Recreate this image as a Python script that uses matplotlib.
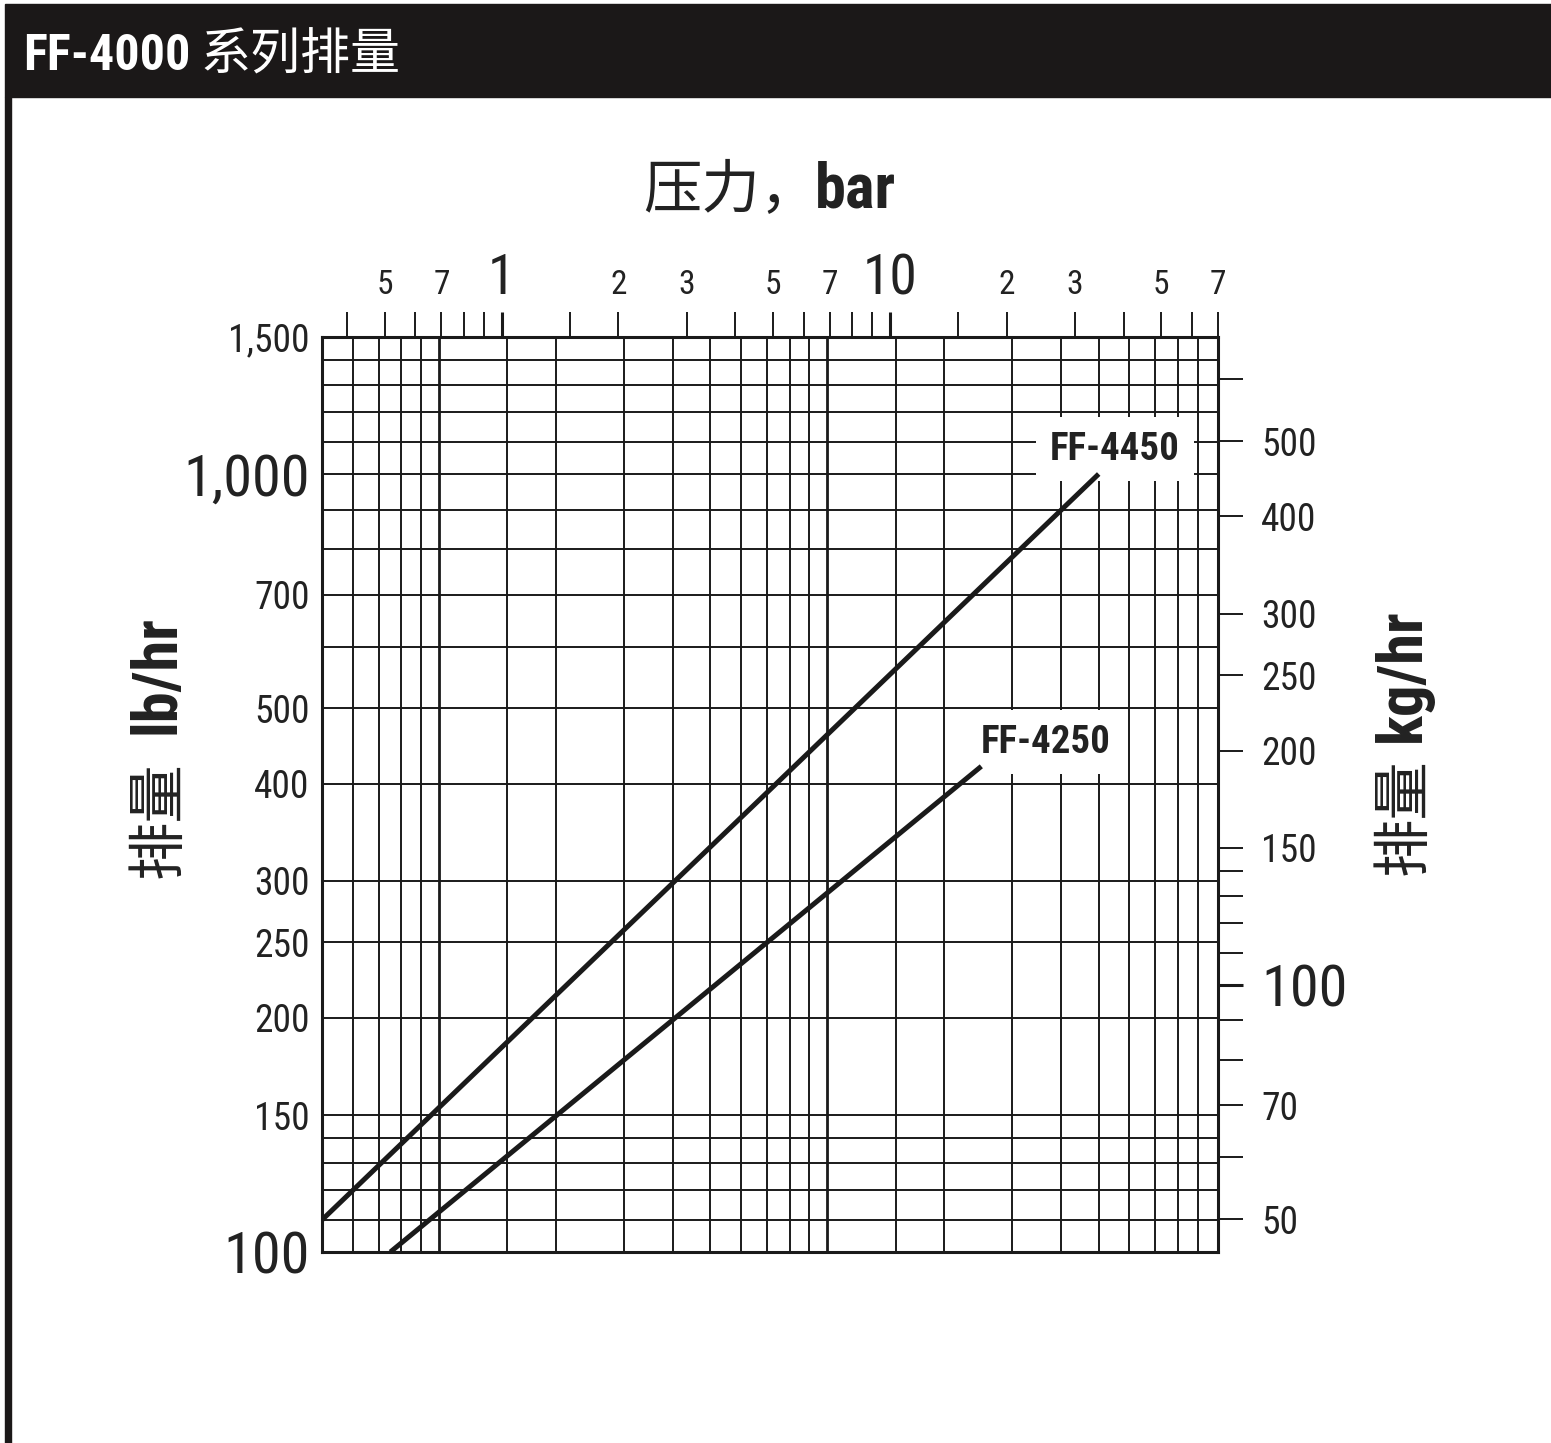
import matplotlib
matplotlib.use('Agg')
import matplotlib.pyplot as plt
from matplotlib import font_manager as fm
from matplotlib.patches import Rectangle
from matplotlib.ticker import FixedLocator, FixedFormatter

# ---------------- data ----------------
series_names = ['FF-4450', 'FF-4250']
ff4450_bar = [0.345, 34.5]
ff4450_lbhr = [110, 1000]
ff4250_bar = [0.517, 17.2]
ff4250_lbhr = [100, 421]

x_range_bar = [0.3447, 70]
y_range_lbhr = [100, 1500]

grid_psi = [6, 7, 8, 9, 10, 15, 20, 30, 40, 50, 60, 70, 80, 90, 100,
            150, 200, 300, 400, 500, 600, 700, 800, 900]
grid_psi_bold = [10, 100]
grid_lbhr = [110, 120, 130, 140, 150, 200, 250, 300, 400, 500, 600, 700,
             800, 900, 1000, 1100, 1200, 1300, 1400]

top_major_bar = [1, 10]
top_major_labels = ['1', '10']
top_minor_bar = [0.4, 0.5, 0.6, 0.7, 0.8, 0.9, 1.5, 2, 3, 4, 5, 6, 7, 8, 9,
                 15, 20, 30, 40, 50, 60, 70]
top_minor_labels = ['', '5', '', '7', '', '', '', '2', '3', '', '5', '', '7',
                    '', '', '', '2', '3', '', '5', '', '7']

left_major_lbhr = [100, 1000]
left_major_labels = ['100', '1,000']
left_minor_lbhr = [150, 200, 250, 300, 400, 500, 700, 1500]
left_minor_labels = ['150', '200', '250', '300', '400', '500', '700', '1,500']

right_major_kg = [100]
right_major_labels = ['100']
right_minor_kg = [50, 60, 70, 80, 90, 110, 120, 130, 140, 150, 200, 250,
                  300, 400, 500, 600]
right_minor_labels = ['50', '', '70', '', '', '', '', '', '', '150', '200',
                      '250', '300', '400', '500', '']

PSI_TO_BAR = 0.0689476
LB_TO_KG = 0.45359237

# ---------------- fonts ----------------
def pick(names):
    for n in names:
        try:
            fm.findfont(fm.FontProperties(family=n), fallback_to_default=False)
            return n
        except Exception:
            pass
    return 'DejaVu Sans'

NARROW = pick(['Liberation Sans Narrow', 'Roboto Condensed', 'Liberation Sans'])
CJK = 'Noto Sans CJK SC'
plt.rcParams['font.family'] = [NARROW, 'DejaVu Sans']

INK = '#1a1a1a'
TXT = '#222222'
W, H = 1551, 1443

fig = plt.figure(figsize=(W / 100, H / 100), dpi=100)
fig.patch.set_facecolor('white')

def fx(px):
    return px / W

def fy(py):
    return 1 - py / H

# header bar and left border
fig.add_artist(Rectangle((fx(5), fy(97)), 1 - fx(5), 93 / H,
                         transform=fig.transFigure, color='#1b1818', zorder=0))
fig.add_artist(Rectangle((fx(5), 0), 6 / W, fy(97),
                         transform=fig.transFigure, color='#1b1818', zorder=0))
t_head = fig.text(fx(23), fy(70), 'FF-4000', color='white', fontsize=36,
                  fontweight='bold', family=[NARROW], va='baseline')
renderer = fig.canvas.get_renderer()
head_end = t_head.get_window_extent(renderer).x1
fig.text((head_end + 10) / W, fy(70), '系列排量', color='white', fontsize=36,
         family=[CJK], va='baseline')

# ---------------- axes ----------------
L, R, T, B = 322, 1218, 337, 1252
ax = fig.add_axes([fx(L), fy(B), (R - L) / W, (B - T) / H])
ax.set_xscale('log')
ax.set_yscale('log')
ax.set_xlim(x_range_bar)
ax.set_ylim(y_range_lbhr)

for p in grid_psi:
    lw = 2.0 if p in grid_psi_bold else 1.4
    ax.axvline(p * PSI_TO_BAR, color=INK, lw=lw, zorder=1)
for v in grid_lbhr:
    ax.axhline(v, color=INK, lw=1.4, zorder=1)

ax.plot(ff4450_bar, ff4450_lbhr, color=INK, lw=3.6, zorder=3,
        solid_capstyle='butt')
ax.plot(ff4250_bar, ff4250_lbhr, color=INK, lw=3.6, zorder=3,
        solid_capstyle='butt')

box = dict(boxstyle='square,pad=0.35', fc='white', ec='none')
ax.text((1115 - L) / (R - L), (B - 449) / (B - T), series_names[0],
        transform=ax.transAxes, ha='center', va='center', fontsize=28,
        fontweight='bold', color=TXT, bbox=box, zorder=2.5)
ax.text((1046 - L) / (R - L), (B - 742) / (B - T), series_names[1],
        transform=ax.transAxes, ha='center', va='center', fontsize=28,
        fontweight='bold', color=TXT, bbox=box, zorder=2.5)

for s in ax.spines.values():
    s.set_linewidth(2.2)
    s.set_color(INK)

# top x axis (bar)
ax.xaxis.tick_top()
ax.xaxis.set_major_locator(FixedLocator(top_major_bar))
ax.xaxis.set_major_formatter(FixedFormatter(top_major_labels))
ax.xaxis.set_minor_locator(FixedLocator(top_minor_bar))
ax.xaxis.set_minor_formatter(FixedFormatter(top_minor_labels))
ax.tick_params(axis='x', which='major', top=True, bottom=False, labeltop=True,
               labelbottom=False, direction='out', length=18, width=2.2,
               labelsize=40, pad=5, colors=INK, labelcolor=TXT)
ax.tick_params(axis='x', which='minor', top=True, bottom=False, labeltop=True,
               labelbottom=False, direction='out', length=18, width=1.4,
               labelsize=24, pad=8, colors=INK, labelcolor=TXT)

# left y axis (lb/hr)
ax.yaxis.set_major_locator(FixedLocator(left_major_lbhr))
ax.yaxis.set_major_formatter(FixedFormatter(left_major_labels))
ax.yaxis.set_minor_locator(FixedLocator(left_minor_lbhr))
ax.yaxis.set_minor_formatter(FixedFormatter(left_minor_labels))
ax.tick_params(axis='y', which='major', length=0, labelsize=42, pad=9,
               labelcolor=TXT)
ax.tick_params(axis='y', which='minor', length=0, labelsize=27, pad=9,
               labelcolor=TXT)

# right y axis (kg/hr)
ax2 = ax.twinx()
ax2.set_yscale('log')
ax2.set_ylim(y_range_lbhr[0] * LB_TO_KG, y_range_lbhr[1] * LB_TO_KG)
for s in ax2.spines.values():
    s.set_visible(False)
ax2.yaxis.set_major_locator(FixedLocator(right_major_kg))
ax2.yaxis.set_major_formatter(FixedFormatter(right_major_labels))
ax2.yaxis.set_minor_locator(FixedLocator(right_minor_kg))
ax2.yaxis.set_minor_formatter(FixedFormatter(right_minor_labels))
ax2.tick_params(axis='y', which='major', direction='out', length=18,
                width=2.2, labelsize=42, pad=13, colors=INK, labelcolor=TXT)
ax2.tick_params(axis='y', which='minor', direction='out', length=18,
                width=1.4, labelsize=27, pad=13, colors=INK, labelcolor=TXT)

# axis titles
fig.text(fx(643), fy(208), '压力，', fontsize=42, family=[CJK], color=TXT,
         va='baseline')
fig.text(fx(815), fy(208), 'bar', fontsize=45, fontweight='bold',
         family=[NARROW], color=TXT, va='baseline')

fig.text(fx(175), fy(878), '排量', fontsize=42, family=[CJK], color=TXT,
         rotation=90, rotation_mode='anchor', ha='left', va='baseline')
fig.text(fx(175), fy(734), 'lb/hr', fontsize=45, fontweight='bold',
         family=[NARROW], color=TXT, rotation=90, rotation_mode='anchor',
         ha='left', va='baseline')

fig.text(fx(1420), fy(875), '排量', fontsize=42, family=[CJK], color=TXT,
         rotation=90, rotation_mode='anchor', ha='left', va='baseline')
fig.text(fx(1420), fy(742), 'kg/hr', fontsize=45, fontweight='bold',
         family=[NARROW], color=TXT, rotation=90, rotation_mode='anchor',
         ha='left', va='baseline')

fig.savefig('out.png', dpi=100, facecolor='white')
